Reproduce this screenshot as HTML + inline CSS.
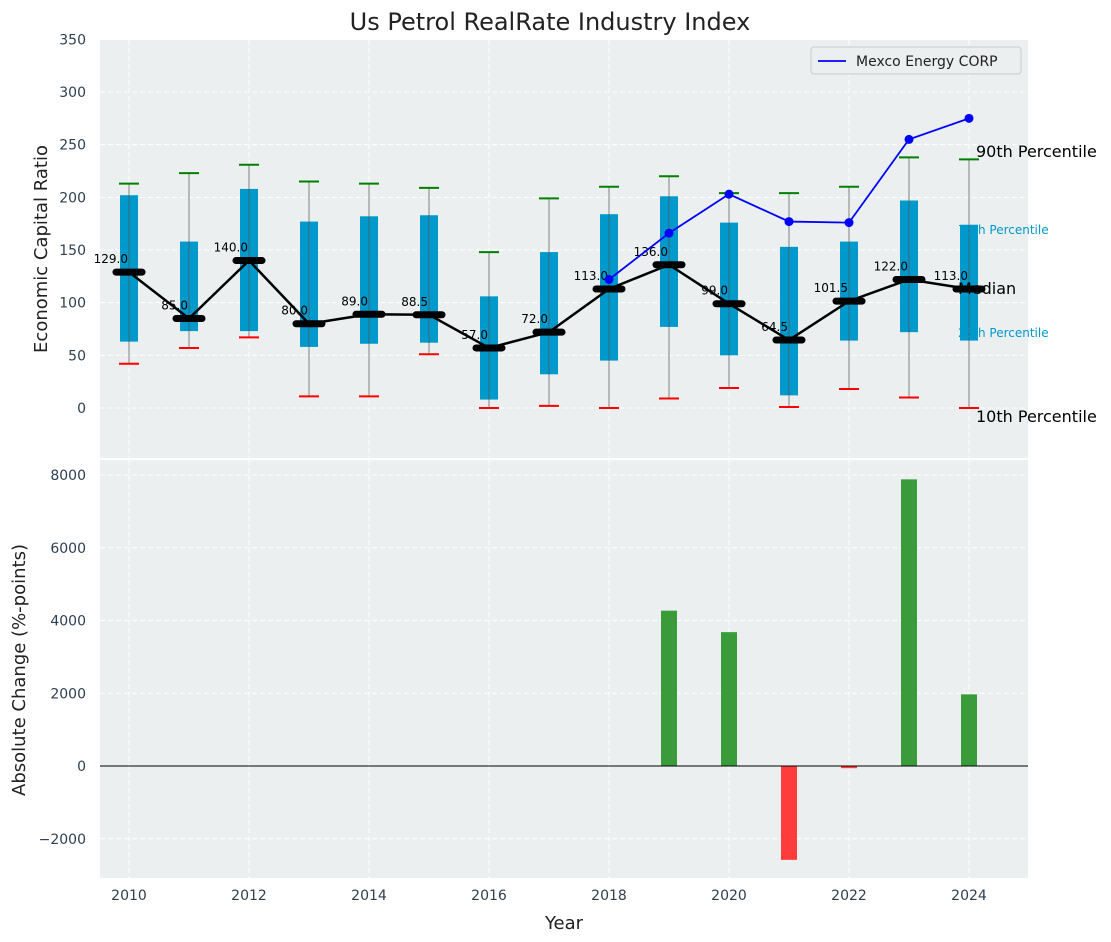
<!DOCTYPE html>
<html><head><meta charset="utf-8"><style>
body{margin:0;background:#fff;}
svg{display:block;font-family:"DejaVu Sans","Liberation Sans",sans-serif;}
</style></head><body>
<svg id="chart" width="1111" height="942" xmlns="http://www.w3.org/2000/svg"></svg>
<script>
const years=[2010,2011,2012,2013,2014,2015,2016,2017,2018,2019,2020,2021,2022,2023,2024];
const q3=[202,158,208,177,182,183,106,148,184,201,176,153,158,197,174];
const q1=[63,73,73,58,61,62,8,32,45,77,50,12,64,72,64];
const p90=[213,223,231,215,213,209,148,199,210,220,204,204,210,238,236];
const p10=[42,57,67,11,11,51,0,2,0,9,19,1,18,10,0];
const medians=[129,85,140,80,89,88.5,57,72,113,136,99,64.5,101.5,122,113];
const mexYears=[2018,2019,2020,2021,2022,2023,2024];
const mexVals=[122,166,203,177,176,255,275];
const barYears=[2019,2020,2021,2022,2023,2024];
const barVals=[4270,3680,-2580,-60,7880,1970];
const yTicksTop=[0,50,100,150,200,250,300,350];
const yTicksBot=[-2000,0,2000,4000,6000,8000];
const xTicks=[2010,2012,2014,2016,2018,2020,2022,2024];

const NS="http://www.w3.org/2000/svg";
const svg=document.getElementById('chart');
function el(t,a,txt){const e=document.createElementNS(NS,t);for(const k in a)e.setAttribute(k,a[k]);if(txt!==undefined)e.textContent=txt;svg.appendChild(e);return e;}
const X=y=>129+(y-2010)*60;
const YT=v=>408-v*1.0533;
const YB=v=>766-v*0.036375;
const L=100,R=1028;

let e;
e=el('text',{x:550,y:30,'font-size':24,'text-anchor':'middle',fill:'#222'},'Us Petrol RealRate Industry Index');

// panels
e=el('rect',{x:L,y:40,width:R-L,height:418,fill:'#ebefef'});

e=el('rect',{x:L,y:460,width:R-L,height:418,fill:'#ebefef'});

// grids
xTicks.forEach(t=>{
 el('line',{x1:X(t),x2:X(t),y1:40,y2:458,stroke:'#fff','stroke-dasharray':'5,3'});
 el('line',{x1:X(t),x2:X(t),y1:460,y2:878,stroke:'#fff','stroke-dasharray':'5,3'});
 e=el('text',{x:X(t),y:900,'font-size':14,'text-anchor':'middle',fill:'#2e3f50'},String(t));
 
});
yTicksTop.forEach(t=>{
 el('line',{x1:L,x2:R,y1:YT(t),y2:YT(t),stroke:'#fff','stroke-dasharray':'5,3'});
 e=el('text',{x:86,y:YT(t)+5,'font-size':14,'text-anchor':'end',fill:'#2e3f50'},String(t));
 
});
yTicksBot.forEach(t=>{
 el('line',{x1:L,x2:R,y1:YB(t),y2:YB(t),stroke:'#fff','stroke-dasharray':'5,3'});
 e=el('text',{x:86,y:YB(t)+5,'font-size':14,'text-anchor':'end',fill:'#2e3f50'},(t<0?'\u2212'+(-t):String(t)));
 
});
// boxes
years.forEach((y,i)=>{
 const x=X(y);
 e=el('rect',{x:x-9,y:YT(q3[i]),width:18,height:YT(q1[i])-YT(q3[i]),fill:'#0099cc'});
 
 el('line',{x1:x,x2:x,y1:YT(p90[i]),y2:YT(p10[i]),stroke:'#555','stroke-opacity':0.6,'stroke-width':1.2});
 el('line',{x1:x-10,x2:x+10,y1:YT(p90[i]),y2:YT(p90[i]),stroke:'green','stroke-width':2});
 el('line',{x1:x-10,x2:x+10,y1:YT(p10[i]),y2:YT(p10[i]),stroke:'red','stroke-width':2});
});
// median line
e=el('polyline',{points:years.map((y,i)=>X(y)+','+YT(medians[i])).join(' '),fill:'none',stroke:'#000','stroke-width':2.5});

years.forEach((y,i)=>{
 e=el('line',{x1:X(y)-13,x2:X(y)+13,y1:YT(medians[i]),y2:YT(medians[i]),stroke:'#000','stroke-width':7,'stroke-linecap':'round'});
 
 e=el('text',{x:X(y)-1,y:YT(medians[i])-9,'font-size':12,'text-anchor':'end',fill:'#000'},medians[i].toFixed(1));
 
});
// mexco
e=el('polyline',{points:mexYears.map((y,i)=>X(y)+','+YT(mexVals[i])).join(' '),fill:'none',stroke:'blue','stroke-width':1.8});

mexYears.forEach((y,i)=>{e=el('circle',{cx:X(y),cy:YT(mexVals[i]),r:4.5,fill:'blue'});
 });
// right annotations
const x24=X(2024);
el('text',{x:976,y:157,'font-size':16,fill:'#000'},'90th Percentile');
el('text',{x:958,y:234,'font-size':12,fill:'#0099cc'},'75th Percentile');
el('text',{x:958,y:294,'font-size':16,fill:'#000'},'Median');
el('text',{x:958,y:337,'font-size':12,fill:'#0099cc'},'25th Percentile');
el('text',{x:976,y:422,'font-size':16,fill:'#000'},'10th Percentile');
// legend
e=el('rect',{x:811,y:47,width:210,height:27,fill:'#ebefef',stroke:'#ccc',rx:3});

el('line',{x1:818,x2:846,y1:61,y2:61,stroke:'blue','stroke-width':1.8});
e=el('text',{x:856,y:66,'font-size':14,fill:'#222'},'Mexco Energy CORP');

// bars
barYears.forEach((y,i)=>{
 const v=barVals[i],y0=YB(0),y1=YB(v);
 e=el('rect',{x:X(y)-8,y:Math.min(y0,y1),width:16,height:Math.abs(y1-y0),fill:v>=0?'#3a9b3a':'#ff3c3c'});
 
});
el('line',{x1:L,x2:R,y1:YB(0),y2:YB(0),stroke:'#000','stroke-width':1});
// axis titles
e=el('text',{x:47,y:249,'font-size':18,'text-anchor':'middle',fill:'#222',transform:'rotate(-90 47 249)'},'Economic Capital Ratio');

e=el('text',{x:25,y:670,'font-size':18,'text-anchor':'middle',fill:'#222',transform:'rotate(-90 25 670)'},'Absolute Change (%-points)');

e=el('text',{x:564,y:929,'font-size':18,'text-anchor':'middle',fill:'#222'},'Year');

</script>
</body></html>
